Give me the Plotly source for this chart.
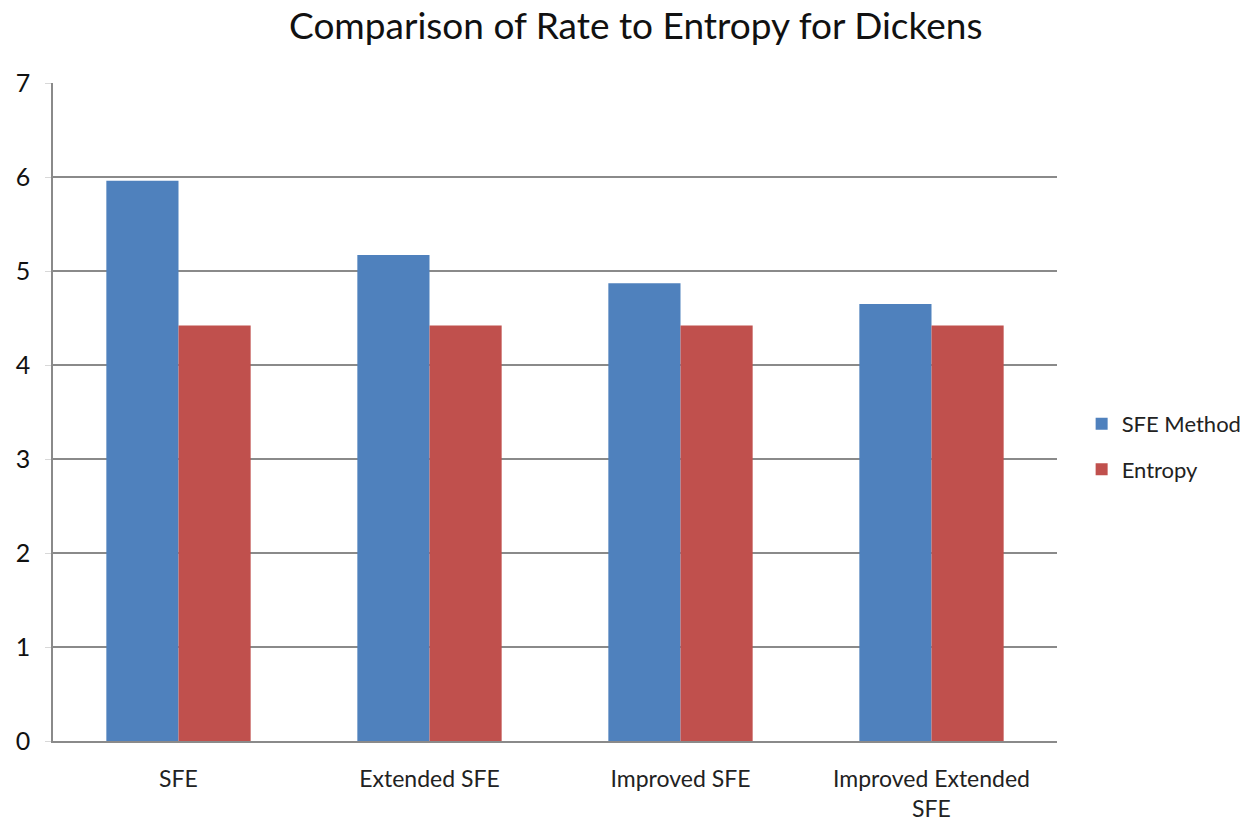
import plotly.graph_objects as go

categories = ["SFE", "Extended SFE", "Improved SFE", "Improved Extended<br>SFE"]
sfe_method = [5.96, 5.17, 4.87, 4.65]
entropy = [4.42, 4.42, 4.42, 4.42]
y_ticks = [0, 1, 2, 3, 4, 5, 6, 7]

FONT = "Lato, 'Open Sans', sans-serif"

fig = go.Figure()
fig.add_trace(go.Bar(name="SFE Method", x=categories, y=sfe_method, legendgroup="a",
                     marker=dict(color="#4F81BD", line=dict(width=0))))
fig.add_trace(go.Bar(name="Entropy", x=categories, y=entropy, legendgroup="b",
                     marker=dict(color="#C0504D", line=dict(width=0))))

fig.update_layout(
    width=1249, height=823,
    margin=dict(l=53, r=192, t=83, b=82),
    paper_bgcolor="white", plot_bgcolor="white",
    barmode="group", bargap=0.425, bargroupgap=0,
    title=dict(text="Comparison of Rate to Entropy for Dickens",
               x=0.509, xanchor="center", y=0.968, yanchor="middle",
               font=dict(family=FONT, size=37, color="#111111")),
    font=dict(family=FONT, color="#222222"),
    legend=dict(xref="container", x=0.866, xanchor="left",
                yref="container", y=0.457, yanchor="middle",
                font=dict(size=22, color="#222222"),
                itemwidth=30, tracegroupgap=14, bgcolor="rgba(0,0,0,0)"),
    xaxis=dict(showline=True, linecolor="#8a8a8a", linewidth=1.5,
               ticks="outside", ticklen=17, tickcolor="rgba(0,0,0,0)",
               tickfont=dict(size=23, color="#222222"), showgrid=False,
               automargin=False),
    yaxis=dict(range=[0, 7], tickvals=y_ticks, showline=True,
               linecolor="#8a8a8a", linewidth=1.5,
               showgrid=True, gridcolor="#8a8a8a", gridwidth=1.5,
               ticks="outside", ticklen=6, tickcolor="#d8d8d8",
               ticklabelstandoff=10, automargin=False,
               tickfont=dict(size=25, color="#111111"), zeroline=False),
)

fig.write_html("out.html")
